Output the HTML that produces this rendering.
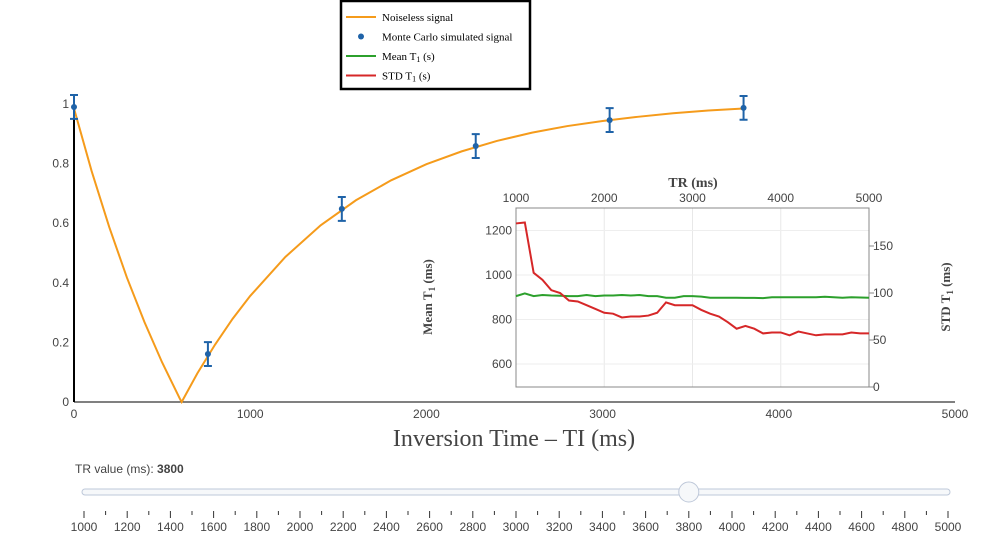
<!DOCTYPE html>
<html><head><meta charset="utf-8"><style>
body{margin:0;background:#fff;width:982px;height:540px;overflow:hidden}
svg text{font-family:"Liberation Sans",sans-serif}
.serif{font-family:"Liberation Serif",serif}
</style></head><body>
<svg id="c" width="982" height="540" xmlns="http://www.w3.org/2000/svg"></svg>
<script>
const tiVals=[0,100,200,300,400,500,600,611,700,800,900,1000,1200,1400,1600,1800,2000,2200,2400,2600,2800,3000,3200,3400,3600,3800];
const sigVals=[0.985,0.775,0.587,0.418,0.268,0.133,0.012,0,0.096,0.192,0.279,0.356,0.487,0.593,0.677,0.744,0.798,0.841,0.876,0.904,0.926,0.943,0.957,0.969,0.978,0.985];
const mcTI=[0,760,1520,2280,3040,3800];
const mcVals=[0.99,0.161,0.648,0.859,0.946,0.987];
const mcErr=[0.04,0.04,0.04,0.04,0.04,0.04];
const mainXTicks=[0,1000,2000,3000,4000,5000];
const mainYTicks=[0,0.2,0.4,0.6,0.8,1];
const trVals=[1000,1100,1200,1300,1400,1500,1600,1700,1800,1900,2000,2100,2200,2300,2400,2500,2600,2700,2800,2900,3000,3100,3200,3300,3400,3500,3600,3700,3800,3900,4000,4100,4200,4300,4400,4500,4600,4700,4800,4900,5000];
const meanVals=[905,917,905,910,908,907,905,905,910,905,908,908,910,908,910,905,905,898,898,905,905,903,898,898,898,898,897,897,896,900,900,900,900,900,900,902,900,898,900,899,898];
const stdVals=[174,175,121.5,114,103,100,92,91,87,83,79,78,74,75,75,76,79,90,87,87,87,82,78,75,69,62,65,62,57,58,58,55,59,57,55,56,56,56,58,57,57];
const insetXTicks=[1000,2000,3000,4000,5000];
const meanTicks=[600,800,1000,1200];
const stdTicks=[0,50,100,150];
const sliderTicks=[1000,1200,1400,1600,1800,2000,2200,2400,2600,2800,3000,3200,3400,3600,3800,4000,4200,4400,4600,4800,5000];
const sliderValue=3800;

const NS='http://www.w3.org/2000/svg';
const svg=document.getElementById('c');
function mk(tag,at,parent){const e=document.createElementNS(NS,tag);for(const k in at)e.setAttribute(k,at[k]);(parent||svg).appendChild(e);return e;}
function tx(s,at,parent){const e=mk('text',at,parent);e.textContent=s;return e;}

// main axes
const X=v=>74+v/5000*881, Y=v=>402-v*298;
let g=mk('g',{});


mainXTicks.forEach(t=>{tx(String(t),{x:X(t),y:418,'text-anchor':'middle','font-size':12,fill:'#444'},g);});
g=mk('g',{});


mainYTicks.forEach(t=>{tx(String(Math.round(t*10)/10),{x:69,y:Y(t)+4,'text-anchor':'end','font-size':12,fill:'#444'},g);});
let ax=mk('line',{x1:74,y1:402,x2:955,y2:402,stroke:'#000','stroke-width':1});


ax=mk('line',{x1:74,y1:402,x2:74,y2:103,stroke:'#000','stroke-width':2});


let t=tx('Inversion Time – TI (ms)',{x:514,y:446,'text-anchor':'middle','font-size':24,fill:'#444',class:'serif'});



let p=mk('polyline',{points:tiVals.map((v,i)=>X(v)+','+Y(sigVals[i])).join(' '),fill:'none',stroke:'#f59b1b','stroke-width':2});


mcTI.forEach((v,i)=>{
  const gg=mk('g',{});
  
  
  const x=X(v),y1=Y(mcVals[i]+mcErr[i]),y2=Y(mcVals[i]-mcErr[i]);
  mk('path',{d:`M${x},${y1}V${y2}M${x-4},${y1}H${x+4}M${x-4},${y2}H${x+4}`,stroke:'#1f63a8','stroke-width':2,fill:'none'},gg);
  mk('circle',{cx:x,cy:Y(mcVals[i]),r:3,fill:'#1f63a8'},gg);
});

// inset
const IX=v=>516+(v-1000)/4000*353, IYL=v=>275-(v-1000)*0.2225, IYR=v=>387-v*0.94;
const ib=mk('rect',{x:516,y:208,width:353,height:179,fill:'#fff'});


insetXTicks.forEach(v=>{
  mk('line',{x1:IX(v),y1:208,x2:IX(v),y2:387,stroke:'#e8e8e8'});
  tx(String(v),{x:IX(v),y:202,'text-anchor':'middle','font-size':12,fill:'#444'});
});
meanTicks.forEach(v=>{
  mk('line',{x1:516,y1:IYL(v),x2:869,y2:IYL(v),stroke:'#eee'});
  tx(String(v),{x:512,y:IYL(v)+4,'text-anchor':'end','font-size':12,fill:'#444'});
});
stdTicks.forEach(v=>{
  mk('line',{x1:869,y1:IYR(v),x2:874,y2:IYR(v),stroke:'#888'});
  tx(String(v),{x:873,y:IYR(v)+4,'font-size':12,fill:'#444'});
});
mk('rect',{x:516,y:208,width:353,height:179,fill:'none',stroke:'#888','stroke-width':1});
t=tx('TR (ms)',{x:693,y:187,'text-anchor':'middle','font-size':14,'font-weight':'bold',fill:'#444',class:'serif'});


t=tx('',{x:0,y:0,'text-anchor':'middle','font-size':13,'font-weight':'bold',fill:'#444',class:'serif',transform:'translate(432,297) rotate(-90)'});
t.innerHTML='Mean T<tspan font-size="9" dy="3">1</tspan><tspan dy="-3"> (ms)</tspan>';


t=tx('',{x:0,y:0,'text-anchor':'middle','font-size':13,'font-weight':'bold',fill:'#444',class:'serif',transform:'translate(950,297) rotate(-90)'});
t.innerHTML='STD T<tspan font-size="9" dy="3">1</tspan><tspan dy="-3"> (ms)</tspan>';


p=mk('polyline',{points:trVals.map((v,i)=>IX(v)+','+IYL(meanVals[i])).join(' '),fill:'none',stroke:'#2ca02c','stroke-width':2});


p=mk('polyline',{points:trVals.map((v,i)=>IX(v)+','+IYR(stdVals[i])).join(' '),fill:'none',stroke:'#d62728','stroke-width':2});



// legend
const lg=mk('g',{});


mk('rect',{x:341,y:1,width:189,height:88,fill:'#fff',stroke:'#000','stroke-width':2.5},lg);
const legItems=[['Noiseless signal','#f59b1b','line'],['Monte Carlo simulated signal','#1f63a8','dot'],['Mean T|1| (s)','#2ca02c','line'],['STD T|1| (s)','#d62728','line']];
legItems.forEach((it,i)=>{
  const y=17+i*19.5;
  const e=mk('g',{},lg);
  
  
  if(it[2]=='line')mk('line',{x1:346,y1:y,x2:376,y2:y,stroke:it[1],'stroke-width':2},e);
  else mk('circle',{cx:361,cy:y,r:3,fill:it[1]},e);
  const parts=it[0].split('|');
  const tt=tx('',{x:382,y:y+4,'font-size':11,fill:'#000',class:'serif'},e);
  if(parts.length==1)tt.textContent=parts[0];
  else tt.innerHTML=parts[0]+'<tspan font-size="8" dy="2">'+parts[1]+'</tspan><tspan dy="-2">'+parts[2]+'</tspan>';
});

// slider
const SX=v=>84+(v-1000)/4000*864;
t=tx('',{x:75,y:473,'font-size':12,fill:'#444'});
t.innerHTML='TR value (ms): <tspan font-weight="bold">'+sliderValue+'</tspan>';


let tr=mk('rect',{x:82,y:489,width:868,height:6,rx:3,fill:'#f6f8fa',stroke:'#bec8d9'});


let kn=mk('circle',{cx:SX(sliderValue),cy:492,r:10,fill:'#f6f8fa',stroke:'#bec8d9'});


for(let v=1000;v<=5000;v+=100){
  const major=v%200==0;
  mk('line',{x1:SX(v),y1:major?511:511,x2:SX(v),y2:major?518:515,stroke:'#333','stroke-width':1});
}
sliderTicks.forEach(v=>{
  const e=tx(String(v),{x:SX(v),y:531,'text-anchor':'middle','font-size':12,fill:'#444'});
  
  
});
</script>
</body></html>
